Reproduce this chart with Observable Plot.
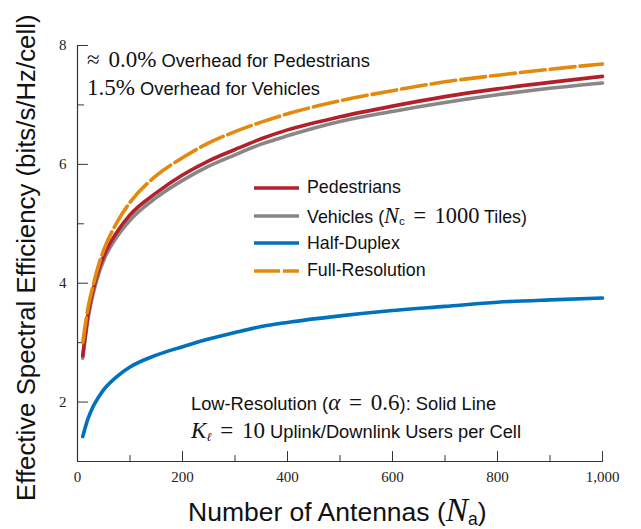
<!DOCTYPE html>
<html>
<head>
<meta charset="utf-8">
<script src="https://cdn.jsdelivr.net/npm/d3@7"></script>
<script src="https://cdn.jsdelivr.net/npm/@observablehq/plot@0.6"></script>
<style>
  body { margin: 0; background: #fff; }
  #wrap { position: relative; width: 641px; height: 529px; font-family: "Liberation Sans", Arial, sans-serif; color: #111; }
  #wrap svg.plot { position: absolute; left: 0; top: 0; }
  .ov { position: absolute; white-space: nowrap; line-height: 1; }
  .m { font-family: "Liberation Serif", serif; font-size: 1.26em; }
  .mi { font-family: "Liberation Serif", serif; font-style: italic; font-size: 1.26em; }
  .rel { display: inline-block; margin: 0 0.38em; }
  .sub { font-size: 0.66em; position: relative; top: 0.22em; }
  .leg { position: absolute; left: 254px; top: 174px; font-size: 17.8px; }
  .leg .row { height: 27.7px; display: flex; align-items: center; white-space: nowrap; }
  .leg svg { margin-right: 8px; }
</style>
</head>
<body>
<div id="wrap"></div>
<script>
// ---- data ----
const antennas    = [10, 20, 30, 40, 50, 75, 100, 150, 200, 250, 300, 350, 400, 500, 600, 700, 800, 900, 1000];
const pedestrians = [2.78, 3.47, 3.90, 4.22, 4.46, 4.86, 5.15, 5.52, 5.82, 6.06, 6.25, 6.43, 6.58, 6.80, 6.98, 7.14, 7.27, 7.38, 7.48];
const vehicles    = [2.74, 3.40, 3.83, 4.15, 4.39, 4.78, 5.06, 5.44, 5.73, 5.97, 6.16, 6.34, 6.48, 6.72, 6.89, 7.04, 7.17, 7.28, 7.37];
const halfDuplex  = [1.42, 1.72, 1.93, 2.08, 2.21, 2.43, 2.59, 2.79, 2.93, 3.06, 3.17, 3.27, 3.34, 3.45, 3.54, 3.61, 3.68, 3.72, 3.75];
const fullRes     = [3.00, 3.58, 3.97, 4.30, 4.56, 5.02, 5.36, 5.81, 6.11, 6.36, 6.55, 6.71, 6.85, 7.07, 7.24, 7.39, 7.50, 7.60, 7.69];

const xMajorTicks = [0, 200, 400, 600, 800, 1000];
const xMinorTicks = [100, 300, 500, 700, 900];
const yMajorTicks = [2, 4, 6, 8];
const yMinorTicks = [3, 5, 7];

const colors = { ped: "#B31F2A", veh: "#878787", hd: "#0072BD", full: "#E3890C" };

const rows = (ys) => antennas.map((a, i) => ({ x: a, y: ys[i] }));

// a plain straight tick for Plot.vector
const tickShape = { draw(context, l) { context.moveTo(0, 0); context.lineTo(0, -l); } };
const tickOpts = { anchor: "start", shape: tickShape, stroke: "#333", strokeWidth: 1 };

const plot = Plot.plot({
  width: 641,
  height: 529,
  marginLeft: 77,
  marginRight: 39,
  marginTop: 45,
  marginBottom: 68,
  x: { domain: [0, 1000] },
  y: { domain: [1, 8] },
  style: { fontFamily: "Liberation Serif, serif", fontSize: "15px", color: "#222", background: "#fff" },
  marks: [
    // axis lines
    Plot.ruleX([0], { stroke: "#333", strokeWidth: 1.2 }),
    Plot.ruleY([1], { stroke: "#333", strokeWidth: 1.2 }),
    // inward ticks
    Plot.vector(yMajorTicks, { x: 0, y: d => d, length: 10, rotate: 90, ...tickOpts }),
    Plot.vector(yMinorTicks, { x: 0, y: d => d, length: 6, rotate: 90, ...tickOpts }),
    Plot.vector(xMajorTicks, { x: d => d, y: 1, length: 10, rotate: 0, ...tickOpts }),
    Plot.vector(xMinorTicks, { x: d => d, y: 1, length: 6, rotate: 0, ...tickOpts }),
    // tick labels
    Plot.axisX({ ticks: xMajorTicks, tickSize: 0, tickPadding: 10, tickFormat: d3.format(","), label: null, fontSize: 15 }),
    Plot.axisY({ ticks: yMajorTicks, tickSize: 0, tickPadding: 11, tickFormat: d3.format("d"), label: null, fontSize: 15 }),
    // series
    Plot.line(rows(vehicles), { x: "x", y: "y", stroke: colors.veh, strokeWidth: 3.6, curve: "monotone-x" }),
    Plot.line(rows(pedestrians), { x: "x", y: "y", stroke: colors.ped, strokeWidth: 3.6, curve: "monotone-x" }),
    Plot.line(rows(halfDuplex), { x: "x", y: "y", stroke: colors.hd, strokeWidth: 3.6, curve: "monotone-x" }),
    Plot.line(rows(fullRes), { x: "x", y: "y", stroke: colors.full, strokeWidth: 3.6, strokeDasharray: "25,5", curve: "monotone-x" })
  ]
});
plot.classList.add("plot");

const wrap = document.getElementById("wrap");
wrap.appendChild(plot);

function ov(html, left, top, size) {
  const d = document.createElement("div");
  d.className = "ov";
  d.style.left = left + "px";
  d.style.top = top + "px";
  d.style.fontSize = size + "px";
  d.innerHTML = html;
  wrap.appendChild(d);
  return d;
}

// annotations
ov('<span class="m">≈<span style="display:inline-block;width:0.38em"></span>0.0%</span> Overhead for Pedestrians', 87, 48, 18.3);
ov('<span class="m">1.5%</span> Overhead for Vehicles', 87, 76, 18.3);
ov('Low-Resolution (<span class="mi">α</span><span class="m"><span class="rel">=</span>0.6</span>): Solid Line', 191, 391, 18.3);
ov('<span class="mi">K</span><span class="mi sub">ℓ</span><span class="m"><span class="rel">=</span>10</span> Uplink/Downlink Users per Cell', 191, 419, 18.3);

// axis titles
ov('Number of Antennas (<span class="mi">N</span><span class="sub">a</span>)', 188, 493, 26.5);
const yl = ov('Effective Spectral Efficiency (bits/s/Hz/cell)', 0, 0, 25.8);
yl.style.transformOrigin = "0 0";
yl.style.transform = "translate(14px, 501px) rotate(-90deg)";

// legend
const legendItems = [
  { label: "Pedestrians", color: colors.ped, dash: null },
  { label: 'Vehicles (<span class="mi">N</span><span class="sub">c</span><span class="m"><span class="rel">=</span>1000</span> Tiles)', color: colors.veh, dash: null },
  { label: "Half-Duplex", color: colors.hd, dash: null },
  { label: "Full-Resolution", color: colors.full, dash: "26,3" }
];
const leg = document.createElement("div");
leg.className = "leg";
for (const it of legendItems) {
  const r = document.createElement("div");
  r.className = "row";
  r.innerHTML = `<svg width="45" height="8"><line x1="0" y1="4" x2="45" y2="4" stroke="${it.color}" stroke-width="3.6" ${it.dash ? `stroke-dasharray="${it.dash}"` : ""}/></svg><span>${it.label}</span>`;
  leg.appendChild(r);
}
wrap.appendChild(leg);
</script>
</body>
</html>
